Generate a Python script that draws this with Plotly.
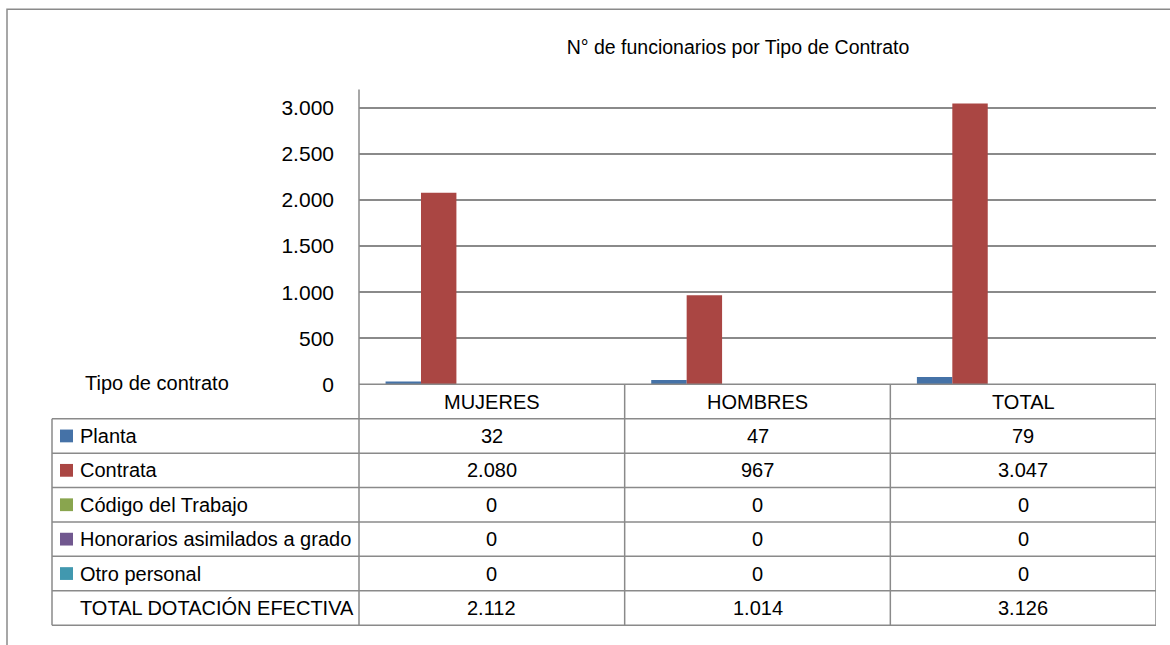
"""Bar chart with Excel-style data table: funcionarios por tipo de contrato."""

import plotly.graph_objects as go

# Chart data
categories = ["MUJERES", "HOMBRES", "TOTAL"]
series_names = [
    "Planta",
    "Contrata",
    "Código del Trabajo",
    "Honorarios asimilados a grado",
    "Otro personal",
]
planta = [32, 47, 79]
contrata = [2080, 967, 3047]
codigo_trabajo = [0, 0, 0]
honorarios = [0, 0, 0]
otro_personal = [0, 0, 0]
total_label = "TOTAL DOTACIÓN EFECTIVA"
total_dotacion = [2112, 1014, 3126]
y_ticks = [0, 500, 1000, 1500, 2000, 2500, 3000]

series_values = [planta, contrata, codigo_trabajo, honorarios, otro_personal]
series_colors = ["#4572A7", "#AA4643", "#89A54E", "#71588F", "#4198AF"]

# reference canvas size, used to turn pixel positions into paper fractions
W, H = 1170, 645
FONT = "Liberation Sans, Arial, sans-serif"
LINE = "#8a8a8a"

# Pixel geometry of the plot area / table
PLOT_L, PLOT_R = 359, 1156
PLOT_T, PLOT_B = 91, 391
TABLE_L = 52
ROW_H = 35.0


def px_x(x: float) -> float:
    return x / W


def px_y(y: float) -> float:
    return 1 - y / H


def fmt(v: int) -> str:
    """Format with dot as thousands separator."""
    return f"{v:,}".replace(",", ".")


fig = go.Figure()

for name, values, color in zip(series_names, series_values, series_colors):
    fig.add_trace(
        go.Bar(name=name, x=categories, y=values, marker_color=color, marker_line_width=0)
    )

# Total row is a series too (no fill), it takes a slot in each group
fig.add_trace(
    go.Bar(
        name=total_label,
        x=categories,
        y=total_dotacion,
        marker_color="rgba(0,0,0,0)",
        marker_line_width=0,
        hoverinfo="skip",
    )
)

shapes = []
annotations = []

# Outer chart frame
shapes.append(
    dict(type="rect", xref="paper", yref="paper",
         x0=px_x(7), x1=px_x(1190), y0=px_y(9.5), y1=px_y(670),
         line=dict(color=LINE, width=1.5))
)

# Header row (category names) sits under the axis
header_top = PLOT_B
header_bot = PLOT_B + ROW_H
row_tops = [header_bot + i * ROW_H for i in range(len(series_names) + 1)]
table_bot = row_tops[-1] + ROW_H

# Horizontal table lines
shapes.append(dict(type="line", xref="paper", yref="paper",
                   x0=px_x(PLOT_L), x1=px_x(PLOT_R), y0=px_y(header_top), y1=px_y(header_top),
                   line=dict(color=LINE, width=1.5)))
for y in row_tops + [table_bot]:
    shapes.append(dict(type="line", xref="paper", yref="paper",
                       x0=px_x(TABLE_L), x1=px_x(PLOT_R), y0=px_y(y), y1=px_y(y),
                       line=dict(color=LINE, width=1.5)))

# Vertical table lines
shapes.append(dict(type="line", xref="paper", yref="paper",
                   x0=px_x(TABLE_L), x1=px_x(TABLE_L), y0=px_y(header_bot), y1=px_y(table_bot),
                   line=dict(color=LINE, width=1.5)))
shapes.append(dict(type="line", xref="paper", yref="paper",
                   x0=px_x(PLOT_L), x1=px_x(PLOT_L), y0=px_y(PLOT_T), y1=px_y(table_bot),
                   line=dict(color=LINE, width=1.5)))
for i in range(len(categories)):
    shapes.append(dict(type="line", xref="x", yref="paper",
                       x0=i + 0.5, x1=i + 0.5, y0=px_y(header_top), y1=px_y(table_bot),
                       line=dict(color=LINE, width=1.5)))

text_font = dict(family=FONT, size=20, color="#000000")

# Category header labels
for cat in categories:
    annotations.append(dict(x=cat, xref="x", y=px_y((header_top + header_bot) / 2), yref="paper",
                            text=cat, showarrow=False, font=text_font,
                            xanchor="center", yanchor="middle"))

# Row labels, legend keys and values
row_labels = series_names + [total_label]
row_values = series_values + [total_dotacion]
row_colors = series_colors + [None]
for top, label, values, color in zip(row_tops, row_labels, row_values, row_colors):
    yc = top + ROW_H / 2
    if color:
        shapes.append(dict(type="rect", xref="paper", yref="paper",
                           x0=px_x(60), x1=px_x(73), y0=px_y(yc - 6.5), y1=px_y(yc + 6.5),
                           fillcolor=color, line=dict(width=0)))
    annotations.append(dict(x=px_x(78), xref="paper", y=px_y(yc), yref="paper",
                            text=label, showarrow=False, font=text_font,
                            xanchor="left", yanchor="middle"))
    for cat, v in zip(categories, values):
        annotations.append(dict(x=cat, xref="x", y=px_y(yc), yref="paper",
                                text=fmt(v), showarrow=False, font=text_font,
                                xanchor="center", yanchor="middle"))

annotations.append(dict(x=px_x(83), xref="paper", y=px_y(390), yref="paper",
                        text="Tipo de contrato", showarrow=False, font=text_font,
                        xanchor="left", yanchor="middle"))

fig.update_layout(
    autosize=True,
    margin=dict(l=0, r=0, t=0, b=0),
    paper_bgcolor="white",
    plot_bgcolor="white",
    showlegend=False,
    barmode="group",
    bargap=0.2,
    bargroupgap=0,
    separators=",.",
    font=dict(family=FONT, size=20, color="#000000"),
    title=dict(
        text="N° de funcionarios por Tipo de Contrato",
        x=px_x(738), y=px_y(48), xref="paper", yref="paper",
        xanchor="center", yanchor="middle",
        font=dict(family=FONT, size=19.5, color="#000000"),
    ),
    xaxis=dict(
        domain=[px_x(PLOT_L), px_x(PLOT_R)],
        showticklabels=False,
        showgrid=False,
        zeroline=False,
        showline=False,
        range=[-0.5, 2.5],
    ),
    yaxis=dict(
        domain=[px_y(PLOT_B), px_y(PLOT_T)],
        range=[0, 3200],
        tickvals=y_ticks,
        tickformat=",d",
        showgrid=True,
        gridcolor=LINE,
        gridwidth=1.5,
        zeroline=False,
        showline=False,
        ticks="",
        ticklabelstandoff=24,
        tickfont=dict(family=FONT, size=21, color="#000000"),
    ),
    shapes=shapes,
    annotations=annotations,
)

# figure fills the window exactly; no body margin, no scrollbars
fig.write_html(
    "out.html",
    config={"displayModeBar": False},
    default_width="100vw",
    default_height="100vh",
    post_script="document.body.style.margin='0';document.body.style.overflow='hidden';",
)
